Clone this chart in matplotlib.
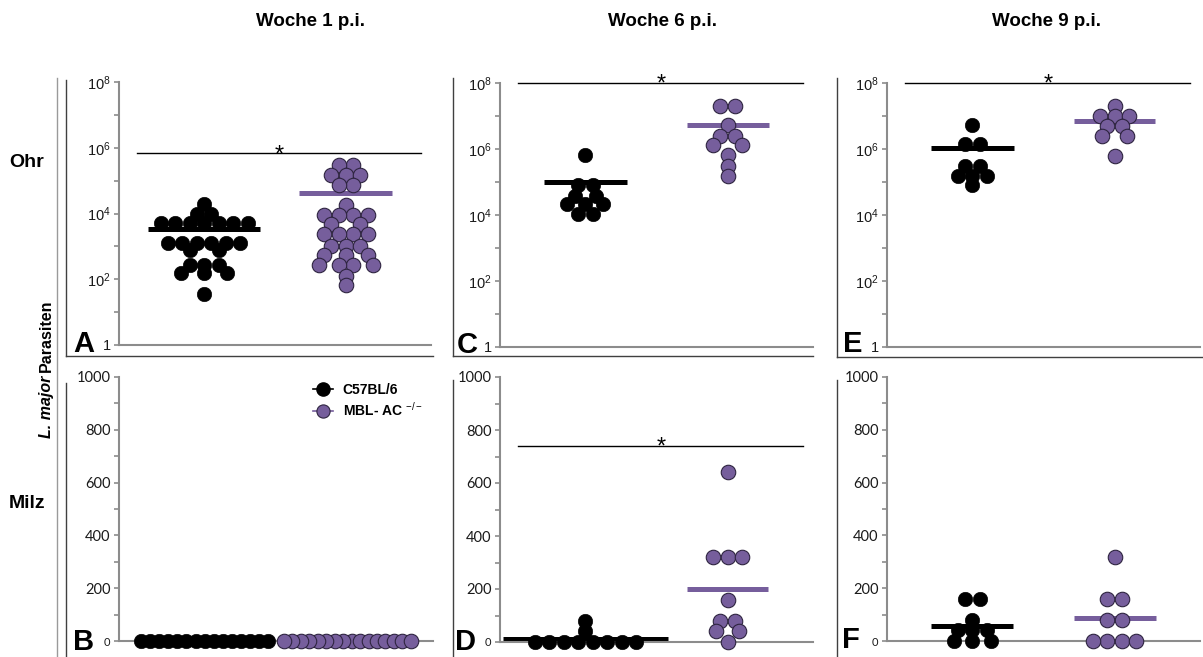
import numpy as np
import matplotlib
matplotlib.use("Agg")
import matplotlib.pyplot as plt
from matplotlib.lines import Line2D
from matplotlib.ticker import FixedLocator, NullFormatter

plt.rcParams['font.family'] = ['Liberation Sans', 'DejaVu Sans']
plt.rcParams['mathtext.fontset'] = 'custom'
plt.rcParams['mathtext.rm'] = 'Liberation Sans'
plt.rcParams['mathtext.it'] = 'Liberation Sans:italic'
plt.rcParams['mathtext.bf'] = 'Liberation Sans:bold'

# ---------------- data ----------------
week_titles = ["Woche 1 p.i.", "Woche 6 p.i.", "Woche 9 p.i."]
row_titles = ["Ohr", "Milz"]
group_names = ["C57BL/6", "MBL- AC $^{-/-}$"]
ylabel_italic = "L. major"
ylabel_rest = "Parasiten"

# Ohr (ear) parasite load, log scale
ohr_w1_c57 = [19500, 9500, 9500, 5100, 5100, 5100, 5100, 5100, 5100, 5100,
              1260, 1260, 1260, 1260, 1260, 1260, 780, 780, 270, 270, 270,
              155, 155, 155, 35]
ohr_w1_mbl = [295000, 295000, 148000, 148000, 148000, 73000, 73000, 18000,
              8900, 8900, 8900, 8900, 4800, 4800, 2300, 2300, 2300, 2300,
              1000, 1000, 1000, 550, 550, 550, 270, 270, 270, 270, 125, 66]
ohr_w6_c57 = [660000, 81000, 81000, 38000, 38000, 21000, 21000, 21000, 10700, 10700]
ohr_w6_mbl = [20000000, 20000000, 5400000, 2450000, 2450000, 1300000, 1300000,
              660000, 300000, 150000]
ohr_w9_c57 = [5400000, 1410000, 1410000, 300000, 300000, 150000, 150000, 150000, 81000]
ohr_w9_mbl = [20000000, 10000000, 10000000, 10000000, 5000000, 5000000,
              2450000, 2450000, 620000]

# Milz (spleen) parasite load, linear scale
milz_w1_c57 = [0, 0, 0, 0, 0, 0, 0, 0, 0, 0, 0, 0, 0, 0, 0]
milz_w1_mbl = [0, 0, 0, 0, 0, 0, 0, 0, 0, 0, 0, 0, 0, 0, 0, 0]
milz_w6_c57 = [80, 40, 0, 0, 0, 0, 0, 0, 0, 0]
milz_w6_mbl = [640, 320, 320, 320, 160, 80, 80, 40, 40, 0]
milz_w9_c57 = [160, 160, 80, 40, 40, 40, 0, 0, 0]
milz_w9_mbl = [320, 160, 160, 80, 80, 0, 0, 0, 0]

# significance bars (None = no bar)
sig_ohr = [6.9e5, 1.0e8, 1.0e8]
sig_milz = [None, 740, None]

log_ticks = [1, 1e2, 1e4, 1e6, 1e8]
log_tick_labels = ["1", "$10^{2}$", "$10^{4}$", "$10^{6}$", "$10^{8}$"]
log_minor = [1e1, 1e3, 1e5, 1e7]
lin_ticks = [0, 200, 400, 600, 800, 1000]
lin_tick_labels = ["0", "200", "400", "600", "800", "1000"]
lin_minor = [100, 300, 500, 700, 900]

# ---------------- style / layout ----------------
W, H, DPI = 1203, 657, 100
BLACK = "#000000"
PURPLE = "#765e9c"
PURPLE_EDGE = "#2e2440"
AXGREY = "#8c8c8c"
XLIM = (0.4, 2.6)
DIAM = 14.5            # marker diameter in px
MAXSPAN = 127.0        # max centre-to-centre width of a row, px


def fx(px):
    return px / W


def fy(py):
    return 1 - py / H


def swarm(ypix, d=DIAM, max_span=MAXSPAN, tfrac=0.78):
    """Symmetric row-wise beeswarm; returns x offsets in pixels."""
    ypix = np.asarray(ypix, float)
    xs = np.zeros(len(ypix))
    order = np.argsort(-ypix, kind="stable")
    rows = []
    for i in order:
        if rows and abs(ypix[i] - ypix[rows[-1][0]]) < 0.5:
            rows[-1].append(i)
        else:
            rows.append([i])
    t = tfrac * d
    placed_x, placed_y = [], []
    for row in rows:
        n = len(row)
        y = ypix[row[0]]
        step = d if n == 1 else min(d, max_span / (n - 1))
        px = np.array(placed_x)
        py = np.array(placed_y)
        if len(py):
            m = np.abs(py - y) < t
            nx, ny = px[m], py[m]
        else:
            nx, ny = np.array([]), np.array([])

        def clear(x):
            if len(nx) == 0:
                return np.inf
            return min(np.min(np.hypot(nx - x, ny - y)),
                       np.min(np.hypot(nx + x, ny - y)))

        pos = []
        if n % 2:
            pos.append(0.0)
            lo = step
        else:
            lo = step / 2
        for _ in range(n // 2):
            cands = np.linspace(lo, lo + step, 41)
            scores = np.array([clear(c) for c in cands])
            ok = np.nonzero(scores >= t)[0]
            x = cands[ok[0]] if len(ok) else cands[np.argmax(scores)]
            pos += [x, -x]
            lo = x + step
        for i, x in zip(row, pos):
            xs[i] = x
            placed_x.append(x)
            placed_y.append(y)
    return xs


fig = plt.figure(figsize=(W / DPI, H / DPI), dpi=DPI)

# panel boxes: left, right, top, bottom (px)
panels = [
    dict(letter="A", box=(119, 431, 82, 345), log=True, data=(ohr_w1_c57, ohr_w1_mbl),
         sig=sig_ohr[0], mw=(56, 46.5), lpos=(73, 352)),
    dict(letter="C", box=(500, 813, 83, 347), log=True, data=(ohr_w6_c57, ohr_w6_mbl),
         sig=sig_ohr[1], mw=(41.5, 41), lpos=(457, 353)),
    dict(letter="E", box=(887, 1200, 83, 347), log=True, data=(ohr_w9_c57, ohr_w9_mbl),
         sig=sig_ohr[2], mw=(41.5, 40.5), lpos=(843, 352)),
    dict(letter="B", box=(119, 433, 377, 641), log=False, data=(milz_w1_c57, milz_w1_mbl),
         sig=sig_milz[0], mw=(41, 41), lpos=(73, 650)),
    dict(letter="D", box=(500, 813, 377, 642), log=False, data=(milz_w6_c57, milz_w6_mbl),
         sig=sig_milz[1], mw=(82.5, 40.5), lpos=(455, 650)),
    dict(letter="F", box=(887, 1200, 377, 641), log=False, data=(milz_w9_c57, milz_w9_mbl),
         sig=sig_milz[2], mw=(41, 41), lpos=(842, 648)),
]

axes = {}
for p in panels:
    l, r, t, b = p["box"]
    ax = fig.add_axes([fx(l), fy(b), (r - l) / W, (b - t) / H])
    axes[p["letter"]] = ax
    ax.set_xlim(*XLIM)
    if p["log"]:
        ax.set_yscale("log")
        ax.set_ylim(1, 1e8)
        ax.yaxis.set_major_locator(FixedLocator(log_ticks))
        ax.set_yticklabels(log_tick_labels)
        ax.yaxis.set_minor_locator(FixedLocator(log_minor))
        ax.yaxis.set_minor_formatter(NullFormatter())
    else:
        ax.set_ylim(0, 1000)
        ax.yaxis.set_major_locator(FixedLocator(lin_ticks))
        ax.set_yticklabels(lin_tick_labels, family=["Lato", "Liberation Sans"])
        ax.yaxis.set_minor_locator(FixedLocator(lin_minor))
        ax.yaxis.set_minor_formatter(NullFormatter())
    for s in ("top", "right"):
        ax.spines[s].set_visible(False)
    for s in ("left", "bottom"):
        ax.spines[s].set_color(AXGREY)
        ax.spines[s].set_linewidth(1.5)
    ax.tick_params(axis="x", bottom=False, labelbottom=False)
    ax.tick_params(axis="y", which="both", direction="out", length=3.6, width=1.2,
                   color=AXGREY, pad=2.5, labelsize=10.5, labelcolor="#1a1a1a")
    if not p["log"]:
        ax.get_yticklabels()[0].set_fontsize(8)
    ax.patch.set_alpha(0)

    px_per_data_x = (r - l) / (XLIM[1] - XLIM[0])
    for gi, (vals, face, edge, elw) in enumerate(
            zip(p["data"], (BLACK, PURPLE), (BLACK, PURPLE_EDGE), (0.4, 0.8))):
        vals = np.asarray(vals, float)
        xc = gi + 1
        ypix = ax.transData.transform(np.column_stack([np.full(len(vals), xc), vals]))[:, 1]
        offs = swarm(ypix) / px_per_data_x
        ax.scatter(xc + offs, vals, s=(DIAM * 72 / DPI) ** 2, c=face, edgecolors=edge,
                   linewidths=elw, zorder=3, clip_on=False)
        mean = vals.mean()
        hw = p["mw"][gi] / px_per_data_x
        ax.plot([xc - hw, xc + hw], [mean, mean], color=face, lw=3.6,
                solid_capstyle="butt", zorder=2, clip_on=False)

    if p["sig"] is not None:
        ax.plot([0.53, 2.53], [p["sig"], p["sig"]], color="black", lw=1.0,
                clip_on=False, zorder=4)
        ax.annotate("*", xy=(1.53, p["sig"]), xytext=(0, -8), textcoords="offset pixels",
                    ha="center", va="baseline", fontsize=17, annotation_clip=False)

    fig.text(fx(p["lpos"][0]), fy(p["lpos"][1]), p["letter"], ha="left", va="baseline",
             fontsize=21, fontweight="bold")

# legend in panel B
hB = [Line2D([0], [0], color=BLACK, lw=1.2, marker="o", markersize=9.5,
             markerfacecolor=BLACK, markeredgecolor=BLACK),
      Line2D([0], [0], color=PURPLE, lw=1.2, marker="o", markersize=9.5,
             markerfacecolor=PURPLE, markeredgecolor=PURPLE_EDGE, markeredgewidth=0.8)]
axes["B"].legend(hB, group_names, loc="upper left", bbox_to_anchor=(fx(313), fy(383)),
                 bbox_transform=fig.transFigure, frameon=False,
                 prop={"weight": "bold", "size": 10}, handlelength=1.45,
                 handletextpad=0.7, labelspacing=0.3, borderpad=0, borderaxespad=0)

# decorative frame lines
def fline(x0, y0, x1, y1, color="#404040", lw=1.0):
    fig.add_artist(Line2D([fx(x0), fx(x1)], [fy(y0), fy(y1)], transform=fig.transFigure,
                          color=color, lw=lw))

fline(57, 78, 57, 657, color="#9a9a9a")
fline(66, 80, 66, 356); fline(66, 356, 433, 356); fline(66, 383, 66, 657)
fline(453, 78, 453, 356); fline(453, 356, 813, 356); fline(453, 380, 453, 657)
fline(837, 78, 837, 357); fline(837, 357, 1203, 357); fline(837, 380, 837, 657)

# column titles
for xc, ttl in zip((311, 662, 1047), week_titles):
    fig.text(fx(xc), fy(21), ttl, ha="center", va="center", fontsize=13.5,
             fontweight="bold")

# row titles
fig.text(fx(27), fy(163), row_titles[0], ha="center", va="center", fontsize=14,
         fontweight="bold")
fig.text(fx(27), fy(503), row_titles[1], ha="center", va="center", fontsize=14,
         fontweight="bold")

# y label (italic species + regular word)
t1 = fig.text(fx(46), fy(438), ylabel_italic, rotation=90, ha="center", va="bottom",
              fontsize=11.5, fontweight="bold", fontstyle="italic")
fig.canvas.draw()
bb = t1.get_window_extent()
fig.text(fx(46), (bb.y1 + 4) / H, ylabel_rest, rotation=90, ha="center", va="bottom",
         fontsize=11.5, fontweight="bold")

fig.savefig("out.png", dpi=DPI)
